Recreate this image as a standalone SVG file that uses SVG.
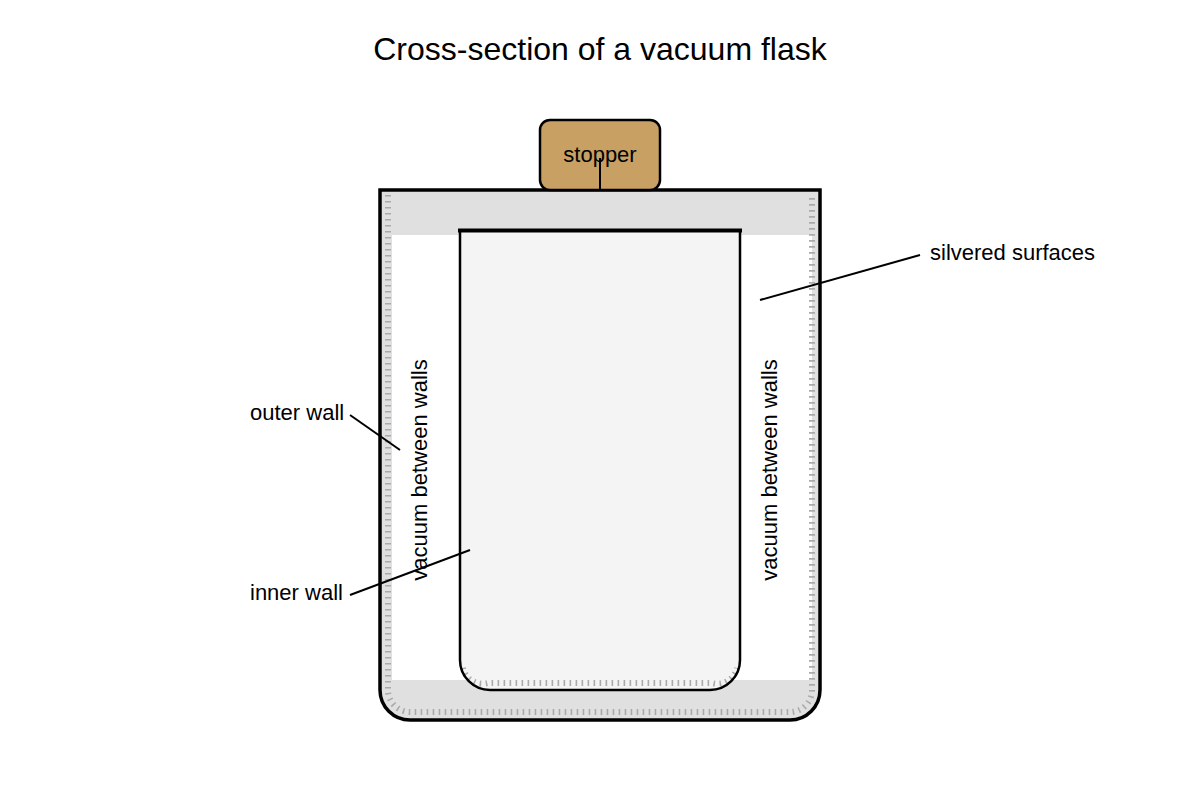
<svg xmlns="http://www.w3.org/2000/svg" width="1200" height="800" viewBox="0 0 1200 800">
<style>
text{font-family:"Liberation Sans",Arial,sans-serif;fill:#000}
.lbl{font-size:22px}
.lead{stroke:#000;stroke-width:2;fill:none}
.silver{stroke:#aaa;stroke-width:6;stroke-dasharray:1.6 4.4;fill:none}
</style>
<rect width="1200" height="800" fill="#fff"/>
<text x="600" y="60" text-anchor="middle" font-size="32">Cross-section of a vacuum flask</text>
<g id="outer-wall">
<path d="M380,190 H820 V690 A30,30 0 0 1 790,720 H410 A30,30 0 0 1 380,690 Z" fill="#e0e0e0"/>
<rect x="392" y="235" width="420" height="445" fill="#fff"/>
<path class="silver" d="M388,195 V690 A22,22 0 0 0 410,712 H790 A22,22 0 0 0 812,690 V195"/>
<path d="M380,190 H820 V690 A30,30 0 0 1 790,720 H410 A30,30 0 0 1 380,690 Z" fill="none" stroke="#000" stroke-width="3.5"/>
</g>
<g id="inner-wall">
<path d="M460,230 V660 A30,30 0 0 0 490,690 H710 A30,30 0 0 0 740,660 V230 Z" fill="#f4f4f4"/>
<path class="silver" d="M463,668 A20,20 0 0 0 488,683 H712 A20,20 0 0 0 737,668"/>
<path d="M460,230 V660 A30,30 0 0 0 490,690 H710 A30,30 0 0 0 740,660 V230" fill="none" stroke="#000" stroke-width="2.5"/>
<line x1="458" y1="230.5" x2="742" y2="230.5" stroke="#000" stroke-width="4"/>
</g>
<g id="stopper">
<rect x="540" y="120" width="120" height="70" rx="10" fill="#c8a064" stroke="#000" stroke-width="2.5"/>
<text x="600" y="162" text-anchor="middle" class="lbl">stopper</text>
</g>
<g id="vacuum-left"><text transform="translate(427,470) rotate(-90)" text-anchor="middle" class="lbl">vacuum between walls</text></g>
<g id="vacuum-right"><text transform="translate(777,470) rotate(-90)" text-anchor="middle" class="lbl">vacuum between walls</text></g>
<g id="label-outer"><text x="250" y="420" class="lbl">outer wall</text></g>
<g id="label-inner"><text x="250" y="600" class="lbl">inner wall</text></g>
<g id="label-silver"><text x="930" y="260" class="lbl">silvered surfaces</text></g>
<g id="connectors">
<line class="lead" x1="600" y1="158" x2="600" y2="190"/>
<line class="lead" x1="350" y1="415" x2="400" y2="450"/>
<line class="lead" x1="350" y1="595" x2="470" y2="550"/>
<line class="lead" x1="760" y1="300" x2="920" y2="255"/>
</g>
</svg>
